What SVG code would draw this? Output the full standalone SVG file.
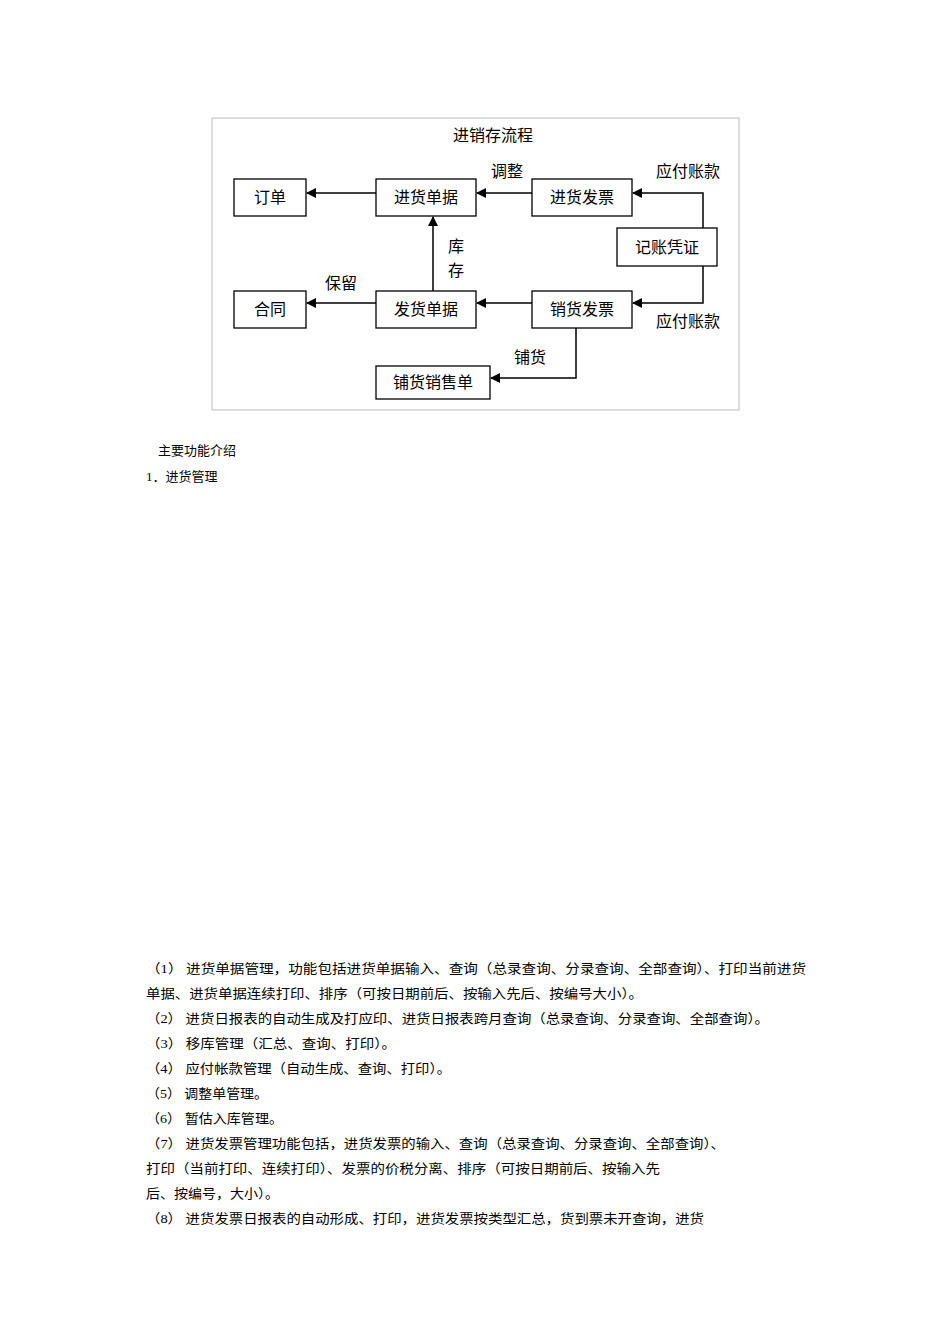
<svg xmlns="http://www.w3.org/2000/svg" width="950" height="1344" viewBox="0 0 950 1344">
<style>
.b{fill:#fff;stroke:#000;stroke-width:1.3}
.t{font-family:"Noto Sans CJK SC",sans-serif;font-size:16px;fill:#000}
.c{text-anchor:middle}
.p{font-family:"Liberation Serif","Noto Sans CJK SC",serif;font-size:13px;fill:#000}
.l{fill:none;stroke:#000;stroke-width:1.5}
</style>
<defs><marker id="a" markerWidth="10" markerHeight="10" refX="9" refY="5" orient="auto" markerUnits="userSpaceOnUse"><path d="M0,0L10,5L0,10z" fill="#000"/></marker></defs>
<rect width="950" height="1344" fill="#fff"/>
<rect x="212" y="118" width="527" height="292" fill="none" stroke="#bbb"/>
<text class="t c" x="493" y="141">进销存流程</text>
<g id="connectors">
<path class="l" d="M376,193H307" marker-end="url(#a)"/>
<path class="l" d="M532,193H477" marker-end="url(#a)"/>
<path class="l" d="M703,228V193H633" marker-end="url(#a)"/>
<path class="l" d="M703,266V303H633" marker-end="url(#a)"/>
<path class="l" d="M376,303H307" marker-end="url(#a)"/>
<path class="l" d="M532,303H477" marker-end="url(#a)"/>
<path class="l" d="M433,291V217" marker-end="url(#a)"/>
<path class="l" d="M576,328V378H491" marker-end="url(#a)"/>
<text class="t c" x="507" y="177">调整</text>
<text class="t c" x="688" y="177">应付账款</text>
<text class="t c" x="688" y="327">应付账款</text>
<text class="t c" x="456" y="252">库</text>
<text class="t c" x="456" y="276">存</text>
<text class="t c" x="341" y="289">保留</text>
<text class="t c" x="530" y="363">铺货</text>
</g>
<g id="n1"><rect class="b" x="234" y="179" width="72" height="37"/><text class="t c" x="270" y="203">订单</text></g>
<g id="n2"><rect class="b" x="376" y="179" width="100" height="37"/><text class="t c" x="426" y="203">进货单据</text></g>
<g id="n3"><rect class="b" x="532" y="179" width="100" height="37"/><text class="t c" x="582" y="203">进货发票</text></g>
<g id="n4"><rect class="b" x="617" y="228" width="100" height="38"/><text class="t c" x="667" y="253">记账凭证</text></g>
<g id="n5"><rect class="b" x="234" y="291" width="72" height="37"/><text class="t c" x="270" y="315">合同</text></g>
<g id="n6"><rect class="b" x="376" y="291" width="100" height="37"/><text class="t c" x="426" y="315">发货单据</text></g>
<g id="n7"><rect class="b" x="532" y="291" width="100" height="37"/><text class="t c" x="582" y="315">销货发票</text></g>
<g id="n8"><rect class="b" x="376" y="366" width="114" height="33"/><text class="t c" x="433" y="388">铺货销售单</text></g>
<text class="p" x="158" y="455">主要功能介绍</text>
<text class="p" x="146" y="481">1．进货管理</text>
<text class="p" x="146" y="973" textLength="660" lengthAdjust="spacingAndGlyphs">（1） 进货单据管理，功能包括进货单据输入、查询（总录查询、分录查询、全部查询）、打印当前进货</text>
<text class="p" x="146" y="998" textLength="497" lengthAdjust="spacingAndGlyphs">单据、进货单据连续打印、排序（可按日期前后、按输入先后、按编号大小）。</text>
<text class="p" x="146" y="1023" textLength="623" lengthAdjust="spacingAndGlyphs">（2） 进货日报表的自动生成及打应印、进货日报表跨月查询（总录查询、分录查询、全部查询）。</text>
<text class="p" x="146" y="1048" textLength="250" lengthAdjust="spacingAndGlyphs">（3） 移库管理（汇总、查询、打印）。</text>
<text class="p" x="146" y="1073" textLength="305" lengthAdjust="spacingAndGlyphs">（4） 应付帐款管理（自动生成、查询、打印）。</text>
<text class="p" x="146" y="1098" textLength="122" lengthAdjust="spacingAndGlyphs">（5） 调整单管理。</text>
<text class="p" x="146" y="1123" textLength="137" lengthAdjust="spacingAndGlyphs">（6） 暂估入库管理。</text>
<text class="p" x="146" y="1148" textLength="579" lengthAdjust="spacingAndGlyphs">（7） 进货发票管理功能包括，进货发票的输入、查询（总录查询、分录查询、全部查询）、</text>
<text class="p" x="146" y="1173" textLength="514" lengthAdjust="spacingAndGlyphs">打印（当前打印、连续打印）、发票的价税分离、排序（可按日期前后、按输入先</text>
<text class="p" x="146" y="1198" textLength="133" lengthAdjust="spacingAndGlyphs">后、按编号，大小）。</text>
<text class="p" x="146" y="1223" textLength="558" lengthAdjust="spacingAndGlyphs">（8） 进货发票日报表的自动形成、打印，进货发票按类型汇总，货到票未开查询，进货</text>
</svg>
